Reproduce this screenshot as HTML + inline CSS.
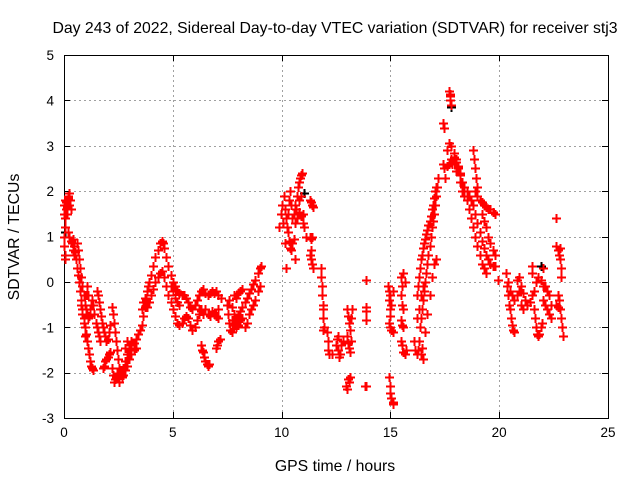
<!DOCTYPE html>
<html><head><meta charset="utf-8">
<style>
html,body{margin:0;padding:0;background:#fff;}
svg{display:block;font-family:"Liberation Sans",sans-serif;}
</style></head>
<body>
<svg id="chart" width="640" height="480" viewBox="0 0 640 480" xmlns="http://www.w3.org/2000/svg">
<rect x="0" y="0" width="640" height="480" fill="#fff"/>
<text x="335" y="33" font-size="15.8" text-anchor="middle" fill="#000">Day 243 of 2022, Sidereal Day-to-day VTEC variation (SDTVAR) for receiver stj3</text>
<text x="0" y="0" font-size="15.8" text-anchor="middle" transform="translate(19,237) rotate(-90)">SDTVAR / TECUs</text>
<text x="335" y="471" font-size="15.8" text-anchor="middle">GPS time / hours</text>
<g id="grid"></g>
<g id="axes"></g>
<g id="marks"></g>
</svg>
<script>
const xTicks = [0,5,10,15,20,25];
const yTicks = [-3,-2,-1,0,1,2,3,4,5];
const redPairs = [
[0.0,1.5],[0.02,1.7],[0.04,1.4],[0.05,1.8],[0.07,1.6],[0.1,1.75],[0.12,1.5],[0.15,1.65],[0.18,1.85],[0.2,1.9],[0.22,1.7],[0.25,1.95],[0.27,1.8],[0.3,1.6],[0.0,1.0],[0.02,0.8],[0.04,0.6],[0.06,0.5],[0.03,1.2],[0.2,1.1],[0.25,1.0],[0.3,0.9],[0.35,0.85],[0.4,0.7],[0.45,0.6],[0.5,0.6],
[0.4,0.95],[0.45,0.8],[0.5,0.65],[0.55,0.5],[0.6,0.3],[0.65,0.15],[0.7,0.0],[0.75,-0.2],[0.8,-0.4],[0.85,-0.6],[0.9,-0.8],[0.95,-1.0],[1.0,-1.15],[1.05,-1.3],[1.1,-1.45],[1.15,-1.6],[1.2,-1.75],[1.25,-1.85],[1.3,-1.9],[1.35,-1.95],
[0.6,0.85],[0.65,0.7],[0.7,0.5],[0.75,0.3],[0.8,0.1],[0.85,-0.1],[0.9,-0.3],[0.95,-0.5],[1.0,-0.6],[1.05,-0.7],[1.1,-0.8],[1.15,-0.75],[1.2,-0.6],[1.25,-0.5],[1.3,-0.4],[1.35,-0.5],[1.4,-0.7],[1.45,-0.9],[1.5,-1.0],[1.55,-1.1],[1.6,-1.2],[1.65,-1.3],[0.8,-0.5],[0.85,-0.7],[0.9,-0.9],[0.95,-1.2],[1.0,-0.3],[1.05,-0.1],[1.1,-0.3],
[1.5,-0.2],[1.55,-0.3],[1.6,-0.45],[1.65,-0.6],[1.7,-0.75],[1.75,-0.9],[1.8,-1.0],[1.85,-1.1],[1.9,-1.2],[1.95,-1.3],[2.0,-1.25],[2.05,-1.1],[2.1,-0.95],
[1.8,-1.9],[1.85,-1.85],[1.9,-1.75],[1.95,-1.7],[2.0,-1.65],[2.05,-1.6],[2.1,-1.55],
[2.2,-0.55],[2.25,-0.7],[2.3,-0.9],[2.35,-1.1],[2.4,-1.3],[2.45,-1.5],[2.5,-1.7],[2.55,-1.9],[2.6,-2.05],[2.65,-2.1],[2.2,-1.9],[2.25,-2.05],[2.3,-2.2],[2.35,-2.15],[2.4,-2.1],[2.45,-2.0],[2.5,-2.1],[2.55,-2.2],
[2.6,-1.95],[2.7,-1.9],[2.8,-1.75],[2.9,-1.6],[3.0,-1.5],[3.1,-1.45],[3.2,-1.35],[3.3,-1.25],[3.4,-1.15],[3.5,-1.05],[2.7,-2.05],[2.8,-1.95],[2.9,-1.85],[3.0,-1.7],[3.1,-1.6],[3.2,-1.5],[3.3,-1.45],[2.8,-1.45],[2.9,-1.3],[3.0,-1.4],[3.1,-1.3],
[3.6,-0.95],[3.65,-0.75],[3.7,-0.55],[3.75,-0.4],[3.8,-0.2],[3.85,-0.1],[3.9,0.0],[4.0,0.15],[4.1,0.35],[4.2,0.55],[4.3,0.7],[4.4,0.85],[4.5,0.9],[4.55,0.85],[3.6,-0.6],[3.65,-0.45],[3.7,-0.35],[3.8,-0.55],[3.9,-0.45],[4.0,-0.3],[4.1,-0.15],[4.2,0.0],[4.3,0.1],[4.4,0.2],[4.5,0.25],
[4.6,0.75],[4.7,0.55],[4.8,0.35],[4.9,0.15],[5.0,0.0],[5.1,-0.1],[5.2,-0.2],[5.3,-0.25],[5.4,-0.3],[5.5,-0.3],[5.6,-0.35],[5.7,-0.45],[5.8,-0.55],[5.9,-0.6],[6.0,-0.5],[6.1,-0.4],[6.2,-0.3],[6.3,-0.2],[6.4,-0.15],[6.5,-0.25],
[4.6,0.1],[4.7,-0.1],[4.8,-0.3],[4.9,-0.45],[5.0,-0.6],[5.1,-0.75],[5.2,-0.9],[5.3,-0.95],[5.4,-0.9],[5.5,-0.8],[5.6,-0.75],[5.7,-0.8],[5.8,-0.95],[5.9,-1.05],[6.0,-1.0],[6.1,-0.85],[6.2,-0.7],[6.3,-0.6],[4.9,-0.1],[5.0,-0.2],[5.1,-0.35],[5.2,-0.45],[5.3,-0.5],
[6.2,-0.6],[6.3,-0.65],[6.4,-0.7],[6.5,-0.6],[6.6,-0.7],[6.7,-0.75],[6.8,-0.65],[6.9,-0.7],[7.0,-0.75],[7.1,-0.8],[6.6,-0.3],[6.7,-0.25],[6.8,-0.2],[6.9,-0.25],[7.0,-0.2],[7.1,-0.3],[6.3,-1.4],[6.35,-1.5],[6.4,-1.55],[6.45,-1.65],[6.5,-1.75],[6.55,-1.8],[6.6,-1.85],[6.65,-1.8],[7.0,-1.45],[7.05,-1.4],[7.1,-1.3],[7.15,-1.25],[7.2,-0.35],[7.1,-0.6],
[7.5,-0.5],[7.55,-0.7],[7.6,-0.9],[7.65,-1.05],[7.7,-1.1],[7.6,-0.4],[7.7,-0.55],[7.8,-0.7],[7.9,-0.8],[8.0,-0.75],[8.1,-0.65],[8.2,-0.55],[8.3,-0.45],[8.4,-0.35],[8.5,-0.25],[8.6,-0.15],[8.7,-0.05],[8.8,0.05],[8.9,0.2],[9.0,0.3],[9.05,0.35],[7.8,-0.3],[7.9,-0.35],[8.0,-0.25],[8.1,-0.2],[8.2,-0.15],[8.3,-1.0],[8.4,-0.9],[8.5,-0.7],[8.6,-0.6],[8.7,-0.5],[8.8,-0.4],[8.9,-0.2],[9.0,-0.1],[7.7,-0.85],[7.8,-0.95],[7.9,-1.0],[8.0,-0.95],[8.1,-0.85],[8.2,-0.8],
[9.9,1.2],[9.95,1.5],[10.0,1.7],[10.05,1.3],[10.1,1.9],[10.15,1.6],[10.2,1.4],[10.25,1.2],[10.3,1.5],[10.35,1.8],[10.4,2.0],[10.45,1.7],[10.5,1.4],[10.55,1.5],[10.6,1.3],[10.65,1.6],[10.7,1.9],[10.75,2.1],[10.8,2.2],[10.85,2.3],[10.9,2.35],[10.95,2.4],[10.6,1.7],[10.7,1.4],[10.8,1.55],[10.9,1.45],[11.0,1.3],[11.05,1.2],[11.1,1.0],[10.8,1.8],[10.9,1.9],[11.0,1.5],[10.3,1.1],[10.35,0.9],[10.4,0.75],[10.45,0.7],[10.5,0.85],[10.55,0.95],[10.2,0.3],[10.6,0.5],[10.15,0.85],
[11.3,1.8],[11.35,1.75],[11.4,1.7],[11.45,1.65],[11.3,1.0],[11.35,0.95],[11.4,1.0],[11.3,0.6],[11.35,0.5],[11.4,0.4],[11.45,0.3],[11.35,0.7],
[11.8,0.3],[11.82,0.1],[11.84,-0.1],[11.86,-0.3],[11.88,-0.5],[11.9,-0.6],[11.92,-0.8],[11.95,-1.0],[11.9,-1.05],
[12.1,-1.1],[12.12,-1.3],[12.15,-1.5],[12.2,-1.6],[12.3,-1.6],[12.5,-1.4],[12.55,-1.25],[12.6,-1.5],[12.65,-1.65],[12.7,-1.6],[12.75,-1.4],[12.8,-1.3],[12.6,-1.2],
[13.0,-0.6],[13.05,-0.75],[13.1,-0.9],[13.15,-1.05],[13.2,-0.8],[13.25,-0.6],[13.0,-1.2],[13.05,-1.35],[13.1,-1.45],[13.15,-1.55],[13.2,-1.3],[13.05,-2.15],[13.1,-2.2],[13.15,-2.1],[13.0,-2.35],[12.95,-2.3],
[13.9,0.05],[13.9,-0.55],[13.9,-0.65],[13.9,-0.85],[13.9,-2.3],[13.85,-2.3],
[14.9,-0.1],[14.92,-0.2],[14.95,-0.4],[14.98,-0.6],[15.0,-0.3],[15.05,-0.5],[15.1,-0.2],[14.95,-0.9],[15.0,-1.0],[15.05,-1.05],[15.1,-1.1],[15.0,-0.75],[14.95,-2.1],[14.97,-2.3],[15.0,-2.45],[15.05,-2.55],[15.1,-2.65],[15.12,-2.7],
[15.5,0.1],[15.55,-0.1],[15.6,0.2],[15.65,0.0],[15.5,-0.3],[15.55,-0.5],[15.6,-0.6],[15.5,-0.85],[15.55,-0.95],[15.6,-1.0],[15.5,-1.3],[15.55,-1.4],[15.6,-1.55],[15.65,-1.6],[15.7,-1.5],
[16.1,-1.3],[16.15,-1.5],[16.2,-1.6],[16.25,-1.5],[16.3,-1.3],[16.35,-1.0],[16.4,-0.8],[16.45,-0.6],[16.5,-0.4],[16.55,-0.2],[16.6,0.0],[16.65,0.2],[16.7,0.4],[16.75,0.6],[16.8,0.8],[16.85,1.0],[16.9,1.2],[16.95,1.35],[17.0,1.5],[17.05,1.7],[17.1,1.9],[17.15,2.1],[17.2,2.3],
[16.2,-0.3],[16.25,-0.1],[16.3,0.1],[16.35,0.3],[16.4,0.5],[16.45,0.6],[16.5,0.75],[16.55,0.85],[16.6,0.95],[16.65,1.05],[16.7,1.15],[16.75,1.25],[16.8,1.35],[16.85,1.45],[16.9,1.6],[16.95,1.7],[17.0,1.85],[17.05,2.0],[17.1,2.1],
[16.2,-0.8],[16.3,-0.6],[16.4,-0.3],[16.5,-0.1],[16.6,-1.1],[16.7,-0.7],[16.8,-0.3],[16.9,0.1],[17.0,0.4],[17.1,0.5],[16.4,-1.6],[16.5,-1.7],[16.45,-1.45],
[17.4,3.5],[17.45,3.4],[17.7,4.2],[17.72,4.1],[17.75,4.15],[17.8,3.9],[17.75,4.0],[17.4,2.6],[17.45,2.5],[17.5,2.3],[17.6,2.55],
[17.6,2.9],[17.7,3.05],[17.8,3.0],[17.9,2.85],[18.0,2.7],[18.1,2.55],[18.2,2.4],[18.3,2.2],[18.4,2.0],[18.5,1.8],[18.6,1.6],[18.7,1.4],[18.8,1.2],[18.9,1.0],[19.0,0.8],[19.1,0.6],[19.2,0.4],[19.3,0.3],[19.4,0.2],
[17.8,2.7],[17.9,2.75],[18.0,2.65],[18.1,2.5],[18.2,2.35],[18.3,2.2],[18.4,2.1],[18.5,2.0],[18.6,1.9],[18.7,1.8],[18.8,1.7],[18.9,1.5],[19.0,1.3],[19.1,1.1],[19.2,0.9],[19.3,0.75],[19.4,0.6],[19.5,0.5],[19.6,0.4],[19.7,0.35],[19.8,0.35],
[18.9,2.0],[19.0,1.9],[19.1,1.8],[19.2,1.75],[19.3,1.7],[19.4,1.65],[19.5,1.6],[19.6,1.6],[19.7,1.55],[19.8,1.5],[19.2,1.5],[19.3,1.35],[19.4,1.2],[19.5,1.0],[19.6,0.85],[19.7,0.7],[19.8,0.6],
[18.8,2.9],[18.85,2.7],[18.9,2.5],[18.95,2.3],[19.0,2.1],[17.7,2.6],[17.85,2.6],[18.0,2.45],[18.2,2.2],[18.3,2.0],[18.4,1.9],[19.95,0.05],
[20.3,0.2],[20.35,-0.1],[20.4,-0.3],[20.45,-0.5],[20.5,-0.6],[20.55,-0.8],[20.6,-0.95],[20.65,-1.05],[20.7,-1.1],[20.4,0.0],[20.5,-0.2],[20.6,-0.3],[20.7,-0.4],[20.8,-0.3],[20.9,-0.2],[21.0,-0.1],[21.1,-0.25],[21.2,-0.4],[21.3,-0.5],[21.4,-0.45],[20.8,0.05],[20.9,0.1],[21.0,-0.5],[21.1,-0.6],[21.5,-0.3],[21.6,-0.2],[21.7,0.0],[21.8,0.1],[21.9,0.05],[22.0,-0.1],[21.5,0.2],[21.6,-0.6],[21.65,-0.8],[21.7,-1.0],[21.75,-1.15],[21.8,-1.2],[21.85,-1.15],[21.9,-1.0],[21.95,-0.9],[22.0,-0.4],[22.1,-0.5],[22.2,-0.6],[22.3,-0.7],[22.4,-0.8],[22.1,-0.1],[22.2,-0.2],[22.3,-0.3],[22.4,-0.5],[22.0,0.3],[21.5,0.35],[22.6,1.4],[22.6,0.8],[22.7,0.7],[22.75,0.6],[22.8,0.5],[22.85,0.3],[22.8,0.75],[22.85,0.1],[22.7,-0.3],[22.75,-0.4],[22.8,-0.6],[22.85,-0.8],[22.9,-1.0],[22.95,-1.2],[22.6,-0.5],[22.7,-0.55]
];
const blackPairs = [[0.05,1.1],[7.2,-0.35],[11.05,1.95],[17.78,3.85],[21.9,0.35]];

const X0=64, X1=608, Y0=418, Y1=55;
const xMin=0,xMax=25,yMin=-3,yMax=5;
function sx(v){return X0+(v-xMin)/(xMax-xMin)*(X1-X0);}
function sy(v){return Y0-(v-yMin)/(yMax-yMin)*(Y0-Y1);}
const NS="http://www.w3.org/2000/svg";
const grid=document.getElementById('grid'), axes=document.getElementById('axes'), marks=document.getElementById('marks');
function mk(tag,attrs,parent){const e=document.createElementNS(NS,tag);for(const k in attrs)e.setAttribute(k,attrs[k]);parent.appendChild(e);return e;}

xTicks.forEach(t=>{
  const x=Math.round(sx(t))+0.5;
  if(t>xMin&&t<xMax){
    const g=mk('line',{x1:x,y1:Y1,x2:x,y2:Y0,stroke:'#a0a0a0','stroke-dasharray':'2,3','stroke-width':1},grid);
    
    
  }
  const tk=mk('path',{d:`M${x},${Y0}v-6M${x},${Y1}v6`,stroke:'#000','stroke-width':1},axes);
  
  
  const lb=mk('text',{x:sx(t),y:Y0+19,'font-size':13.5,'text-anchor':'middle'},axes);
  lb.textContent=t;
  
  
});
yTicks.forEach(t=>{
  const y=Math.round(sy(t))+0.5;
  if(t>yMin&&t<yMax){
    const g=mk('line',{x1:X0,y1:y,x2:X1,y2:y,stroke:'#a0a0a0','stroke-dasharray':'2,3','stroke-width':1},grid);
    
    
  }
  const tk=mk('path',{d:`M${X0},${y}h6M${X1},${y}h-6`,stroke:'#000','stroke-width':1},axes);
  
  
  const lb=mk('text',{x:X0-10,y:sy(t)+5,'font-size':13.5,'text-anchor':'end'},axes);
  lb.textContent=t;
  
  
});
const frame=mk('rect',{x:X0+0.5,y:Y1+0.5,width:X1-X0,height:Y0-Y1,fill:'none',stroke:'#000','stroke-width':1},axes);



function plus(pairs,color,name){
  let d='';
  pairs.forEach(p=>{const x=Math.round(sx(p[0]))+0.5,y=Math.round(sy(p[1]))+0.5;d+=`M${x-4.5},${y}h9M${x},${y-4.5}v9`;});
  const e=mk('path',{d:d,stroke:color,'stroke-width':2,fill:'none'},marks);
  
  
}
plus(blackPairs,'#000','sdtvar-points-black');
plus(redPairs,'#ff0000','sdtvar-points-red');
</script>
</body></html>
